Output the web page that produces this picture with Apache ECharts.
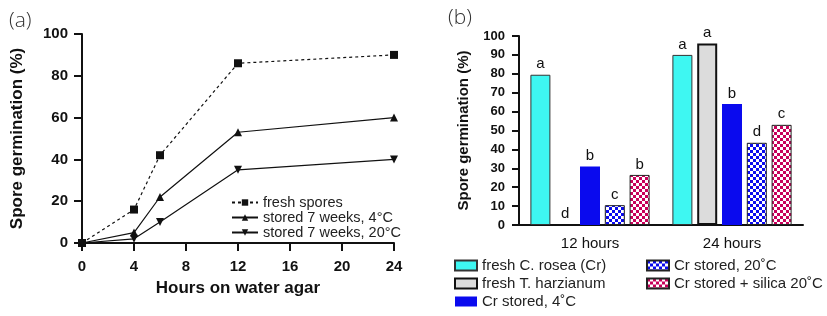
<!DOCTYPE html>
<html style="height: 100%">
<head>
<meta charset="utf-8">
<script src="https://cdn.jsdelivr.net/npm/echarts@6/dist/echarts.min.js"></script>
</head>
<body style="height: 100%; margin: 0; background: #fff">
<div id="container" style="width: 827px; height: 316px"></div>
<script>
// (a) germination over time
var hours = [0, 4, 6, 12, 24];
var freshSpores = [0, 16, 42, 86, 90];
var stored4 = [0, 5, 22, 53, 60];
var stored20 = [0, 2, 10, 35, 40];

// (b) bars at 12 h and 24 h
var groups = ['12 hours', '24 hours'];
var barNames = ['fresh C. rosea (Cr)', 'fresh T. harzianum', 'Cr stored, 4\u02DAC', 'Cr stored, 20\u02DAC', 'Cr stored + silica 20\u02DAC'];
var barValues = [
    [79.5, 90],
    [0, 96],
    [31, 64],
    [10.5, 43.5],
    [26.5, 53]
];
var barLetters = [
    ['a', 'a'],
    ['d', 'a'],
    ['b', 'b'],
    ['c', 'd'],
    ['b', 'c']
];

var FONT = 'Liberation Sans';

function checker(col) {
    var c = document.createElement('canvas');
    c.width = 6; c.height = 6;
    var ctx = c.getContext('2d');
    ctx.fillStyle = '#fff';
    ctx.fillRect(0, 0, 6, 6);
    ctx.fillStyle = col;
    ctx.fillRect(0, 0, 3, 3);
    ctx.fillRect(3, 3, 3, 3);
    return {image: c, repeat: 'repeat'};
}

var barStyles = [
    {color: '#3ef7f2', borderColor: '#333', borderWidth: 1},
    {color: '#dcdcdc', borderColor: '#111', borderWidth: 2},
    {color: '#0a0aee', borderColor: '#0a0aee', borderWidth: 0},
    {color: checker('#0a0aee'), borderColor: '#222', borderWidth: 1},
    {color: checker('#c8005a'), borderColor: '#222', borderWidth: 1}
];

function pairs(ys) {
    return hours.map(function (h, i) { return [h, ys[i]]; });
}

var axisLine = {lineStyle: {color: '#111', width: 2}};
var tick = {show: true, length: 8, lineStyle: {color: '#111', width: 2}};

var series = [
    {
        name: 'fresh spores', type: 'line', xAxisIndex: 0, yAxisIndex: 0,
        data: pairs(freshSpores), symbol: 'rect', symbolSize: 8,
        lineStyle: {color: '#111', width: 1.2, type: [3, 3]},
        itemStyle: {color: '#111'}
    },
    {
        name: 'stored 7 weeks, 4\u00B0C', type: 'line', xAxisIndex: 0, yAxisIndex: 0,
        data: pairs(stored4), symbol: 'triangle', symbolSize: 8,
        lineStyle: {color: '#111', width: 1.2},
        itemStyle: {color: '#111'}
    },
    {
        name: 'stored 7 weeks, 20\u00B0C', type: 'line', xAxisIndex: 0, yAxisIndex: 0,
        data: pairs(stored20), symbol: 'triangle', symbolRotate: 180, symbolSize: 8,
        lineStyle: {color: '#111', width: 1.2},
        itemStyle: {color: '#111'}
    }
];

barNames.forEach(function (name, i) {
    series.push({
        name: name, type: 'bar', xAxisIndex: 1, yAxisIndex: 1,
        data: barValues[i], barWidth: 20, barGap: '24%',
        itemStyle: barStyles[i],
        label: {
            show: true, position: 'top', distance: 3,
            fontFamily: FONT, fontSize: 15, color: '#111',
            formatter: function (p) { return barLetters[i][p.dataIndex]; }
        }
    });
});

var legendText = {fontFamily: FONT, fontSize: 15, color: '#222'};

var chart = echarts.init(document.getElementById('container'));
chart.setOption({
    animation: false,
    title: [
        {text: '(a)', left: 4, top: 6, textStyle: {fontFamily: 'Open Sans', fontWeight: 300, fontSize: 21, color: '#333'}},
        {text: '(b)', left: 443, top: 3, textStyle: {fontFamily: 'Open Sans', fontWeight: 300, fontSize: 21, color: '#333'}}
    ],
    legend: [
        {
            data: series.slice(0, 3).map(function (s) { return s.name; }),
            orient: 'vertical', left: 226, top: 190, itemGap: 0, height: 60,
            itemWidth: 26, itemHeight: 8,
            textStyle: {fontFamily: FONT, fontSize: 14.5, color: '#222'}
        },
        {
            data: barNames.slice(0, 3), icon: 'rect',
            orient: 'vertical', left: 449, top: 253, itemGap: 3, height: 62,
            itemWidth: 22, itemHeight: 10,
            textStyle: legendText
        },
        {
            data: barNames.slice(3), icon: 'rect',
            orient: 'vertical', left: 641, top: 253, itemGap: 3, height: 62,
            itemWidth: 22, itemHeight: 10,
            textStyle: legendText
        }
    ],
    grid: [
        {left: 82, top: 34, width: 312, height: 209},
        {left: 519, top: 36, width: 284, height: 189}
    ],
    xAxis: [
        {
            type: 'value', gridIndex: 0, min: 0, max: 24, interval: 4,
            name: 'Hours on water agar', nameLocation: 'middle', nameGap: 37,
            nameTextStyle: {fontFamily: FONT, fontWeight: 'bold', fontSize: 17, color: '#111'},
            axisLine: axisLine, axisTick: tick, splitLine: {show: false},
            axisLabel: {fontFamily: FONT, fontWeight: 'bold', fontSize: 15, color: '#111', margin: 16}
        },
        {
            type: 'category', gridIndex: 1, data: groups,
            axisLine: axisLine, axisTick: {show: false},
            axisLabel: {fontFamily: FONT, fontSize: 15, color: '#111', margin: 11}
        }
    ],
    yAxis: [
        {
            type: 'value', gridIndex: 0, min: 0, max: 100, interval: 20,
            name: 'Spore germination (%)', nameLocation: 'middle', nameGap: 56,
            nameTextStyle: {fontFamily: FONT, fontWeight: 'bold', fontSize: 17, color: '#111'},
            axisLine: {show: true, lineStyle: {color: '#111', width: 2}},
            axisTick: tick, splitLine: {show: false},
            axisLabel: {fontFamily: FONT, fontWeight: 'bold', fontSize: 15, color: '#111', margin: 14}
        },
        {
            type: 'value', gridIndex: 1, min: 0, max: 100, interval: 10,
            name: 'Spore germination (%)', nameLocation: 'middle', nameGap: 48,
            nameTextStyle: {fontFamily: FONT, fontWeight: 'bold', fontSize: 15, color: '#111'},
            axisLine: {show: true, lineStyle: {color: '#111', width: 2}},
            axisTick: {show: true, length: 7, lineStyle: {color: '#111', width: 2}},
            splitLine: {show: false},
            axisLabel: {fontFamily: FONT, fontWeight: 'bold', fontSize: 13, color: '#111', margin: 14}
        }
    ],
    series: series
});
</script>
</body>
</html>
